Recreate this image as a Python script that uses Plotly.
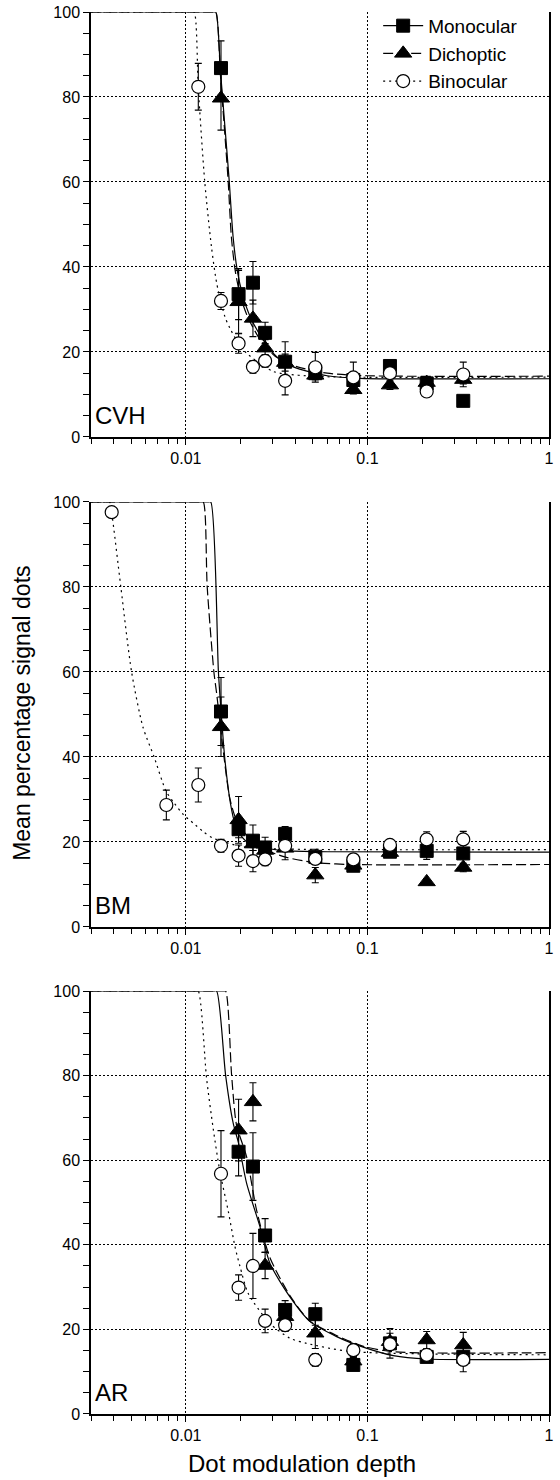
import plotly.graph_objects as go
from plotly.subplots import make_subplots

# ---------------- data ----------------
# Panel CVH
cvh_mono_x = [0.0156, 0.0195, 0.0234, 0.0273, 0.0352, 0.0516, 0.0836, 0.133, 0.212, 0.337]
cvh_mono_y = [86.8, 33.6, 36.3, 24.5, 17.7, 15.0, 13.4, 16.7, 12.6, 8.5]
cvh_mono_e = [6.4, 6.0, 5.0, 2.5, 4.7, 1.5, 1.0, 1.0, 1.0, 0.5]
cvh_dich_x = [0.0156, 0.0195, 0.0234, 0.0273, 0.0352, 0.0516, 0.0836, 0.133, 0.212, 0.337]
cvh_dich_y = [79.7, 31.8, 27.9, 20.9, 17.5, 14.5, 11.1, 12.2, 12.8, 13.5]
cvh_dich_e = [7.5, 7.4, 4.3, 2.0, 2.0, 1.0, 1.0, 1.0, 1.0, 1.0]
cvh_bino_x = [0.0117, 0.0156, 0.0195, 0.0234, 0.0273, 0.0352, 0.0516, 0.0836, 0.133, 0.212, 0.337]
cvh_bino_y = [82.4, 32.0, 22.0, 16.5, 17.9, 13.2, 16.4, 14.0, 15.0, 10.7, 14.7]
cvh_bino_e = [5.5, 2.0, 2.3, 1.5, 1.5, 3.3, 3.5, 3.6, 1.0, 1.0, 2.9]

cvh_mono_fit_x = [0.003, 0.0141, 0.0146, 0.0155, 0.0164, 0.0173, 0.0182, 0.0192, 0.0205, 0.0226, 0.0267, 0.0316, 0.039, 0.06, 0.091, 1.0]
cvh_mono_fit_y = [100, 100, 100, 86, 73, 60.5, 47, 39, 33.5, 28.3, 22.8, 18.9, 16.5, 14.4, 13.8, 13.7]
cvh_dich_fit_x = [0.003, 0.0141, 0.0146, 0.0155, 0.0164, 0.0171, 0.0178, 0.0187, 0.0200, 0.0220, 0.0260, 0.031, 0.039, 0.06, 0.1, 1.0]
cvh_dich_fit_y = [100, 100, 100, 85, 71, 60, 47, 39, 33, 28, 22.5, 19, 16.8, 15, 14.4, 14.3]
cvh_bino_fit_x = [0.003, 0.0107, 0.0111, 0.0117, 0.0127, 0.0138, 0.0148, 0.0164, 0.0175, 0.0195, 0.0216, 0.0303, 0.05, 1.0]
cvh_bino_fit_y = [100, 100, 100, 82, 60, 45, 36, 28.3, 25.5, 22, 19.7, 15.4, 14.3, 14.1]

# Panel BM
bm_mono_x = [0.0156, 0.0195, 0.0234, 0.0273, 0.0352, 0.0516, 0.0836, 0.133, 0.212, 0.337]
bm_mono_y = [50.7, 23.0, 20.3, 18.7, 21.9, 16.5, 14.4, 17.7, 17.9, 17.3]
bm_mono_e = [8.0, 2.0, 3.7, 2.4, 1.7, 1.8, 1.0, 1.0, 2.0, 1.0]
bm_dich_x = [0.0156, 0.0195, 0.0234, 0.0273, 0.0352, 0.0516, 0.0836, 0.133, 0.212, 0.337]
bm_dich_y = [47.1, 25.2, 19.5, 18.0, 18.5, 12.2, 14.5, 17.5, 10.6, 14.0]
bm_dich_e = [7.0, 5.5, 1.5, 1.5, 2.7, 1.8, 1.0, 1.0, 0.5, 1.0]
bm_bino_x = [0.0039, 0.0078, 0.0117, 0.0156, 0.0195, 0.0234, 0.0273, 0.0352, 0.0516, 0.0836, 0.133, 0.212, 0.337]
bm_bino_y = [97.6, 28.7, 33.4, 19.1, 16.8, 15.5, 15.9, 19.1, 16.0, 15.9, 19.3, 20.6, 20.6]
bm_bino_e = [0.8, 3.5, 4.0, 1.5, 2.5, 2.5, 1.5, 1.0, 1.0, 1.0, 1.0, 1.8, 1.9]

bm_mono_fit_x = [0.003, 0.0132, 0.0137, 0.0151, 0.0156, 0.0164, 0.0176, 0.0186, 0.0205, 0.0225, 0.033, 0.06, 1.0]
bm_mono_fit_y = [100, 100, 100, 60, 51, 39.3, 29, 24.4, 21, 19.5, 18, 17.7, 17.6]
bm_dich_fit_x = [0.003, 0.0120, 0.01246, 0.0131, 0.01426, 0.01476, 0.0156, 0.0175, 0.0195, 0.025, 0.035, 0.05, 0.08, 1.0]
bm_dich_fit_y = [100, 100, 100, 80, 60, 55, 46, 30, 24, 19, 16.5, 15.2, 14.7, 14.7]
bm_bino_fit_x = [0.003, 0.0036, 0.0038, 0.0039, 0.00438, 0.00502, 0.0058, 0.00668, 0.00776, 0.0085, 0.0097, 0.011, 0.0125, 0.0141, 0.02, 0.03, 1.0]
bm_bino_fit_y = [100, 100, 100, 97.5, 80, 60, 47, 40, 32, 29.5, 26.4, 24.4, 22.4, 20.9, 19, 18.4, 18.2]

# Panel AR
ar_mono_x = [0.0195, 0.0234, 0.0273, 0.0352, 0.0516, 0.0836, 0.133, 0.212, 0.337]
ar_mono_y = [62.0, 58.5, 42.2, 24.6, 23.6, 11.6, 16.7, 13.5, 13.5]
ar_mono_e = [5.7, 8.0, 4.0, 2.2, 2.6, 1.0, 3.5, 1.0, 1.0]
ar_dich_x = [0.0195, 0.0234, 0.0273, 0.0352, 0.0516, 0.0836, 0.133, 0.212, 0.337]
ar_dich_y = [67.1, 73.8, 35.1, 23.0, 19.1, 12.5, 17.1, 17.5, 16.3]
ar_dich_e = [7.3, 4.5, 3.1, 1.0, 3.6, 1.0, 2.0, 2.0, 3.0]
ar_bino_x = [0.0156, 0.0195, 0.0234, 0.0273, 0.0352, 0.0516, 0.0836, 0.133, 0.212, 0.337]
ar_bino_y = [56.8, 29.9, 35.0, 22.0, 21.0, 12.8, 15.1, 16.5, 14.0, 12.8]
ar_bino_e = [10.2, 3.0, 7.7, 2.8, 1.5, 1.5, 1.5, 1.0, 1.0, 2.8]

ar_mono_fit_x = [0.003, 0.0142, 0.01476, 0.01655, 0.0182, 0.0195, 0.0216, 0.02557, 0.02903, 0.03741, 0.04822, 0.06766, 0.0948, 0.1387, 0.2119, 1.0]
ar_mono_fit_y = [100, 100, 100, 80, 68.8, 64, 54.5, 44.3, 35.6, 27.7, 21.9, 18.3, 15.8, 13.8, 13.0, 12.9]
ar_dich_fit_x = [0.003, 0.0160, 0.01654, 0.01786, 0.0190, 0.0216, 0.0245, 0.029, 0.0374, 0.048, 0.068, 0.095, 0.14, 1.0]
ar_dich_fit_y = [100, 100, 100, 80, 68.3, 60.8, 48.2, 37, 28, 22, 18.5, 16, 14.7, 14.5]
ar_bino_fit_x = [0.003, 0.0113, 0.01169, 0.0130, 0.01413, 0.01539, 0.0171, 0.01862, 0.01985, 0.02204, 0.02903, 0.03741, 0.04624, 0.08, 1.0]
ar_bino_fit_y = [100, 100, 100, 79.3, 67.5, 57.3, 48, 39.6, 34.9, 28.5, 21.4, 17.9, 16.7, 14.8, 14.0]

panel_labels = ["CVH", "BM", "AR"]
series_names = ["Monocular", "Dichoptic", "Binocular"]
x_tick_vals = [0.01, 0.1, 1]
x_tick_text = ["0.01", "0.1", "1"]
x_minor_vals = [m * d for d in (0.001, 0.01, 0.1) for m in range(2, 10) if m * d >= 0.003]

# ---------------- figure ----------------
FONT = "Liberation Sans, Arial, sans-serif"
fig = make_subplots(rows=3, cols=1)

panels = [
    (cvh_mono_x, cvh_mono_y, cvh_mono_e, cvh_dich_x, cvh_dich_y, cvh_dich_e, cvh_bino_x, cvh_bino_y, cvh_bino_e,
     cvh_mono_fit_x, cvh_mono_fit_y, cvh_dich_fit_x, cvh_dich_fit_y, cvh_bino_fit_x, cvh_bino_fit_y),
    (bm_mono_x, bm_mono_y, bm_mono_e, bm_dich_x, bm_dich_y, bm_dich_e, bm_bino_x, bm_bino_y, bm_bino_e,
     bm_mono_fit_x, bm_mono_fit_y, bm_dich_fit_x, bm_dich_fit_y, bm_bino_fit_x, bm_bino_fit_y),
    (ar_mono_x, ar_mono_y, ar_mono_e, ar_dich_x, ar_dich_y, ar_dich_e, ar_bino_x, ar_bino_y, ar_bino_e,
     ar_mono_fit_x, ar_mono_fit_y, ar_dich_fit_x, ar_dich_fit_y, ar_bino_fit_x, ar_bino_fit_y),
]

line_styles = ["solid", "10px,4px", "2px,4px"]
marker_styles = [
    dict(symbol="square", size=13, color="black", line=dict(color="black", width=1)),
    dict(symbol="triangle-up", size=15, color="black", line=dict(color="black", width=1)),
    dict(symbol="circle", size=13, color="white", line=dict(color="black", width=1.2)),
]

for i, p in enumerate(panels):
    row = i + 1
    (mx, my, me, dx, dy, de, bx, by, be, mfx, mfy, dfx, dfy, bfx, bfy) = p
    fits = [(mfx, mfy), (dfx, dfy), (bfx, bfy)]
    for k, (fx, fy) in enumerate(fits):
        fig.add_trace(go.Scatter(x=fx, y=fy, mode="lines", showlegend=False, hoverinfo="skip",
                                 line=dict(color="black", width=1.2, dash=line_styles[k],
                                           shape="spline", smoothing=0.7)),
                      row=row, col=1)
    pts = [(mx, my, me), (dx, dy, de), (bx, by, be)]
    for k, (px, py, pe) in enumerate(pts):
        fig.add_trace(go.Scatter(x=px, y=py, mode="markers", showlegend=False, cliponaxis=False,
                                 marker=marker_styles[k],
                                 error_y=dict(type="data", array=pe, color="black", thickness=1.1, width=3.5)),
                      row=row, col=1)

# legend entries
for k in range(3):
    fig.add_trace(go.Scatter(x=[None], y=[None], mode="lines+markers", name=series_names[k],
                             line=dict(color="black", width=1.2, dash=line_styles[k]),
                             marker=marker_styles[k]), row=1, col=1)

domains = [[0.6969, 1.0], [0.3474, 0.6505], [0.0, 0.3017]]
for i in range(3):
    sfx = "" if i == 0 else str(i + 1)
    fig.layout["xaxis" + sfx].update(
        type="log", range=[-2.5229, 0], domain=[0, 1],
        tickmode="array", tickvals=x_tick_vals, ticktext=x_tick_text,
        ticks="outside", ticklen=6, tickwidth=1, tickcolor="black", ticklabeloverflow="allow",
        showline=True, linecolor="black", linewidth=1.5,
        showgrid=True, gridcolor="black", gridwidth=1, griddash="2px,2px",
        zeroline=False, tickfont=dict(family=FONT, size=16, color="black"),
        minor=dict(tickmode="array", tickvals=x_minor_vals, ticks="outside", ticklen=5,
                   tickwidth=1, tickcolor="black", showgrid=False),
    )
    fig.layout["yaxis" + sfx].update(
        range=[0, 100], domain=domains[i], dtick=20, tick0=0,
        ticks="outside", ticklen=6, tickwidth=1, tickcolor="black", ticklabeloverflow="allow",
        showline=True, linecolor="black", linewidth=1.5, mirror=True,
        showgrid=True, gridcolor="black", gridwidth=1, griddash="2px,2px",
        zeroline=False, tickfont=dict(family=FONT, size=16, color="black"),
        minor=dict(dtick=5, ticks="outside", ticklen=6, tickwidth=1, tickcolor="black", showgrid=False),
    )
    xr = "x" + sfx
    fig.add_annotation(text=panel_labels[i], xref=xr + " domain", yref="y" + sfx + " domain",
                       x=0.004, y=0.0, xanchor="left", yanchor="bottom", yshift=6, showarrow=False,
                       font=dict(family=FONT, size=24, color="black"))

fig.add_annotation(text="Mean percentage signal dots", xref="paper", yref="paper", x=-0.151, y=0.5,
                   textangle=-90, showarrow=False, xanchor="center", yanchor="middle",
                   font=dict(family=FONT, size=23, color="black"))
fig.add_annotation(text="Dot modulation depth", xref="paper", yref="paper", x=0.46, y=-0.035,
                   showarrow=False, xanchor="center", yanchor="middle",
                   font=dict(family=FONT, size=24, color="black"))

fig.update_layout(
    width=560, height=1480,
    margin=dict(l=91, r=11, t=12, b=66, autoexpand=False),
    paper_bgcolor="white", plot_bgcolor="white",
    showlegend=True,
    legend=dict(x=0.627, y=1.0037, xanchor="left", yanchor="top", bgcolor="rgba(0,0,0,0)",
                font=dict(family=FONT, size=19, color="black"), itemwidth=40, tracegroupgap=0),
    font=dict(family=FONT, color="black"),
)

# remove the browser's default 8px page margin so the 560x1480 figure fills the window exactly
fig.write_html("out.html", config={"displayModeBar": False},
               post_script="document.body.style.margin='0px';")
